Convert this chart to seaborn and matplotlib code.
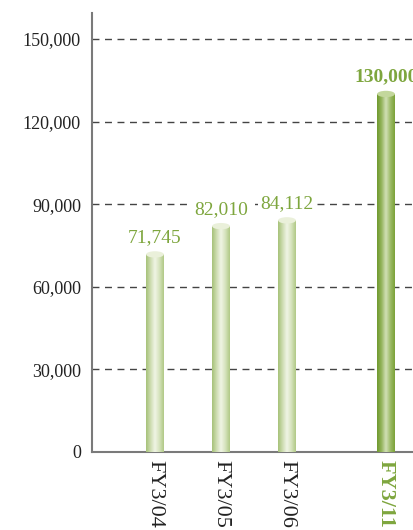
import numpy as np
import pandas as pd
import matplotlib
matplotlib.use("Agg")
import matplotlib.pyplot as plt
import seaborn as sns
from matplotlib.colors import LinearSegmentedColormap
from matplotlib.patches import Ellipse

# data
years = ['FY3/04', 'FY3/05', 'FY3/06', 'FY3/11']
values = [71745, 82010, 84112, 130000]
labels = ['71,745', '82,010', '84,112', '130,000']
yticks = [0, 30000, 60000, 90000, 120000, 150000]

# last bar (target) sits after a gap
pos = np.arange(len(years), dtype=float)
pos[-1] += 0.5
df = pd.DataFrame({'pos': pos, 'val': values, 'year': years})

sns.set_style('white')
plt.rcParams['font.family'] = ['Liberation Serif', 'DejaVu Serif']

fig = plt.figure(figsize=(4.13, 5.30), dpi=100)
ax = fig.add_axes([92 / 413, 78 / 530, (413 - 92) / 413, 439 / 530])

sns.barplot(data=df, x='pos', y='val', native_scale=True, width=0.27,
            color='#b5cd8a', ax=ax, zorder=2)

light = LinearSegmentedColormap.from_list(
    'light', ['#a6c278', '#cddcb0', '#f1f5e6', '#d6e3bd', '#b0c986'])
dark = LinearSegmentedColormap.from_list(
    'dark', ['#6f9a2e', '#94b45c', '#d3e1b8', '#9dbb68', '#7ba238'])

grad = np.linspace(0, 1, 64).reshape(1, -1)
for i, p in enumerate(ax.patches):
    x0, y0 = p.get_x(), p.get_y()
    w, h = p.get_width(), p.get_height()
    cmap = dark if i == len(years) - 1 else light
    im = ax.imshow(grad, cmap=cmap, aspect='auto', extent=[x0, x0 + w, y0, y0 + h],
                   zorder=3, interpolation='bicubic')
    im.set_clip_path(p)
    p.set_facecolor('none')
    p.set_edgecolor('none')
    top = Ellipse((x0 + w / 2, y0 + h), w, 2300,
                  facecolor='#eaf0da' if i < len(years) - 1 else '#c3d79c',
                  edgecolor='none', zorder=4)
    ax.add_patch(top)
    bold = i == len(years) - 1
    # white box hides the dashed grid behind the number
    ax.annotate(labels[i], (x0 + w / 2, y0 + h), xytext=(0, 6),
                textcoords='offset points', ha='center', va='bottom',
                fontsize=14, color='#7ea63e',
                fontweight='bold' if bold else 'normal', zorder=5,
                bbox=dict(facecolor='white', edgecolor='none', pad=2))

ax.set_xlim(-63 / 66, (413 - 155) / 66)
ax.set_ylim(0, 159400)
ax.set_yticks(yticks)
ax.set_yticklabels([f'{t:,}' for t in yticks], fontsize=13, color='#222222')
ax.set_xticks(pos)
ax.set_xticklabels(years, rotation=-90, fontsize=16, color='#222222', va='top')
xt = ax.get_xticklabels()
xt[-1].set_color('#7ea63e')
xt[-1].set_fontweight('bold')
ax.tick_params(axis='both', length=0, pad=8)
ax.tick_params(axis='x', pad=6)

for t in yticks[1:]:
    ax.axhline(t, color='#444444', linewidth=1, linestyle=(0, (5, 4)), zorder=1)

for s in ['top', 'right']:
    ax.spines[s].set_visible(False)
for s in ['left', 'bottom']:
    ax.spines[s].set_color('#7a7a7a')
    ax.spines[s].set_linewidth(1.5)

ax.set_xlabel('')
ax.set_ylabel('')

fig.savefig('out.png', dpi=100)
